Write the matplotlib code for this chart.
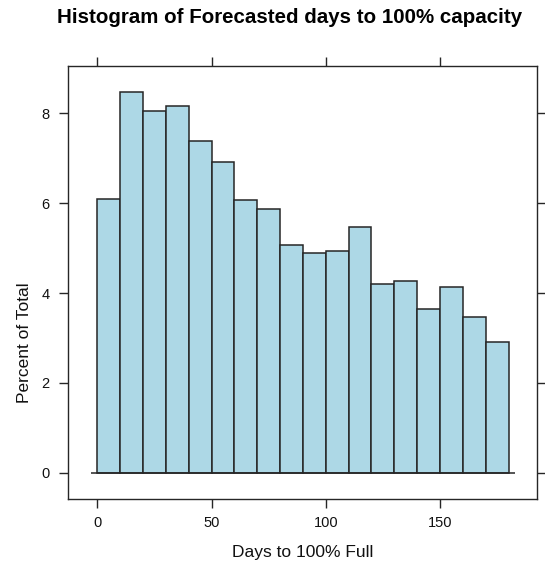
import matplotlib
matplotlib.use("Agg")
import matplotlib.pyplot as plt
import numpy as np

# Histogram data: bin edges (days) and percent of total per bin
bin_edges = [0, 10, 20, 30, 40, 50, 60, 70, 80, 90, 100, 110, 120, 130, 140, 150, 160, 170, 180]
percent = [6.10, 8.47, 8.05, 8.16, 7.38, 6.91, 6.07, 5.87, 5.07, 4.88,
           4.94, 5.46, 4.20, 4.27, 3.64, 4.14, 3.46, 2.92]
x_ticks = [0, 50, 100, 150]
y_ticks = [0, 2, 4, 6, 8]

title = "Histogram of Forecasted days to 100% capacity"
xlabel = "Days to 100% Full"
ylabel = "Percent of Total"

plt.rcParams['font.family'] = ['Liberation Sans', 'DejaVu Sans']

W, H = 545, 564
fig = plt.figure(figsize=(W / 100, H / 100), dpi=100)
ax = fig.add_axes([68.3 / W, 1 - 499 / H, (536.7 - 68.3) / W, (499 - 65.7) / H])

edge_col = '#262626'
fill_col = '#ADD8E6'

left = np.array(bin_edges[:-1])
widths = np.diff(bin_edges)
ax.bar(left, percent, width=widths, align='edge', color=fill_col,
       edgecolor=edge_col, linewidth=1.1, zorder=2)

# baseline under the bars
ax.hlines(0, bin_edges[0] - 2.9, bin_edges[-1] + 2.6, color=edge_col,
          linewidth=1.1, zorder=3)

ax.set_xlim(-12.69, 192.3)
ax.set_ylim(-0.585, 9.06)

ax.set_xticks(x_ticks)
ax.set_xticklabels([str(v) for v in x_ticks])
ax.set_yticks(y_ticks)
ax.set_yticklabels([str(v) for v in y_ticks])

ax.tick_params(axis='both', which='both', direction='out', length=6.5, width=1.0,
               color=edge_col, labelsize=10.5, labelcolor='#111111',
               top=True, right=True, labeltop=False, labelright=False)
ax.tick_params(axis='x', pad=5.5)
ax.tick_params(axis='y', pad=6.8)

for s in ax.spines.values():
    s.set_color(edge_col)
    s.set_linewidth(1.0)

fig.text(290 / W, 1 - 22.7 / H, title, ha='center', va='baseline',
         fontsize=14.8, fontweight='bold', color='black')
fig.text(302.5 / W, 1 - 557.3 / H, xlabel, ha='center', va='baseline',
         fontsize=12.5, color='#111111')
fig.text(25 / W, 1 - 282 / H, ylabel, ha='right', va='center', rotation=90,
         fontsize=12.5, color='#111111', rotation_mode='anchor')

fig.savefig("out.png", dpi=100, facecolor='white')
